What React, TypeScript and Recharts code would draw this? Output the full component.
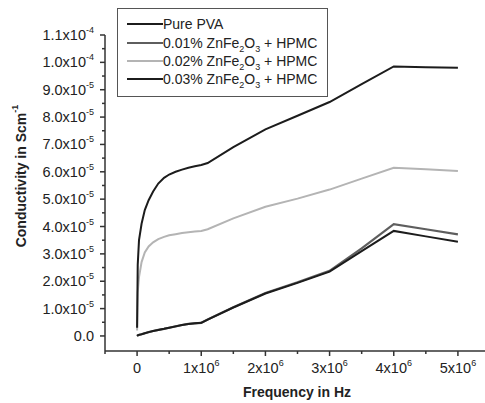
import { LineChart, Line, XAxis, YAxis } from 'recharts';

// frequency in Hz
const freqs = [
  0, 1e4, 3e4, 7e4, 1.2e5, 1.8e5, 2.5e5, 3.3e5, 4.2e5, 5e5, 6e5, 7e5, 8e5, 9e5,
  1e6, 1.1e6, 1.5e6, 2e6, 2.5e6, 3e6, 3.5e6, 4e6, 4.5e6, 5e6,
];

// conductivity in S/cm
const pvaValues = [
  0, 0.02e-5, 0.04e-5, 0.06e-5, 0.1e-5, 0.14e-5, 0.18e-5, 0.22e-5, 0.26e-5, 0.3e-5, 0.35e-5, 0.4e-5, 0.44e-5, 0.46e-5,
  0.48e-5, 0.6e-5, 1.04e-5, 1.55e-5, 1.94e-5, 2.35e-5, 3.1e-5, 3.84e-5, 3.64e-5, 3.44e-5,
];
const zf01Values = [
  0, 0.02e-5, 0.04e-5, 0.06e-5, 0.1e-5, 0.14e-5, 0.18e-5, 0.22e-5, 0.26e-5, 0.3e-5, 0.35e-5, 0.4e-5, 0.44e-5, 0.46e-5,
  0.48e-5, 0.6e-5, 1.05e-5, 1.57e-5, 1.96e-5, 2.38e-5, 3.2e-5, 4.09e-5, 3.9e-5, 3.71e-5,
];
const zf02Values = [
  0.2e-5, 1.6e-5, 2.15e-5, 2.7e-5, 3.05e-5, 3.27e-5, 3.42e-5, 3.54e-5, 3.62e-5, 3.68e-5, 3.72e-5, 3.76e-5, 3.79e-5, 3.82e-5,
  3.84e-5, 3.9e-5, 4.3e-5, 4.72e-5, 5.02e-5, 5.35e-5, 5.75e-5, 6.15e-5, 6.09e-5, 6.03e-5,
];
const zf03Values = [
  0.3e-5, 2.6e-5, 3.5e-5, 4.1e-5, 4.6e-5, 4.96e-5, 5.28e-5, 5.57e-5, 5.78e-5, 5.9e-5, 6.0e-5, 6.08e-5, 6.15e-5, 6.2e-5,
  6.25e-5, 6.32e-5, 6.9e-5, 7.55e-5, 8.05e-5, 8.55e-5, 9.2e-5, 9.85e-5, 9.82e-5, 9.8e-5,
];

const xTicks = [-5e5, 0, 5e5, 1e6, 1.5e6, 2e6, 2.5e6, 3e6, 3.5e6, 4e6, 4.5e6, 5e6, 5.5e6];
const yTicks = [
  0, 0.5e-5, 1e-5, 1.5e-5, 2e-5, 2.5e-5, 3e-5, 3.5e-5, 4e-5, 4.5e-5, 5e-5, 5.5e-5,
  6e-5, 6.5e-5, 7e-5, 7.5e-5, 8e-5, 8.5e-5, 9e-5, 9.5e-5, 1e-4, 1.05e-4, 1.1e-4,
];

const legendItems = [
  { name: 'Pure PVA', conc: '', color: '#1c1c1c' },
  { name: '', conc: '0.01%', color: '#5e5e5e' },
  { name: '', conc: '0.02%', color: '#b4b4b4' },
  { name: '', conc: '0.03%', color: '#1c1c1c' },
];

const data = freqs.map((f, i) => ({
  f,
  pva: pvaValues[i],
  zf01: zf01Values[i],
  zf02: zf02Values[i],
  zf03: zf03Values[i],
}));

const FONT = '"Liberation Sans", Arial, sans-serif';
const TEXT = '#222';

function XTick({ x, y, payload }: any) {
  const v = payload.value;
  const major = v >= 0 && Math.abs(v / 1e6 - Math.round(v / 1e6)) < 1e-6;
  const n = Math.round(v / 1e6);
  return (
    <g>
      <line x1={x} x2={x} y1={y} y2={y + (major ? 5 : 3)} stroke="#333" strokeWidth={1.5} />
      {major && (
        <text x={x} y={y + 22} textAnchor="middle" fontFamily={FONT} fontSize={14.5} fill={TEXT}>
          {n === 0 ? (
            '0'
          ) : (
            <>
              {n}x10<tspan dy={-7} fontSize={9}>6</tspan>
            </>
          )}
        </text>
      )}
    </g>
  );
}

function YTick({ x, y, payload }: any) {
  const v = payload.value;
  const k = v / 1e-5;
  const major = Math.abs(k - Math.round(k)) < 1e-6;
  const r = Math.round(k);
  let label: any = '0.0';
  if (r >= 10) label = <>{(r / 10).toFixed(1)}x10<tspan dy={-7} fontSize={9}>-4</tspan></>;
  else if (r > 0) label = <>{r.toFixed(1)}x10<tspan dy={-7} fontSize={9}>-5</tspan></>;
  return (
    <g>
      <line x1={x} x2={x - (major ? 5 : 3)} y1={y} y2={y} stroke="#333" strokeWidth={1.5} />
      {major && (
        <text x={x - 11} y={y + 5} textAnchor="end" fontFamily={FONT} fontSize={14.5} fill={TEXT}>
          {label}
        </text>
      )}
    </g>
  );
}

function YTitle() {
  const cx = 21;
  const cy = 176;
  return (
    <text
      x={cx}
      y={cy}
      transform={`rotate(-90 ${cx} ${cy})`}
      textAnchor="middle"
      dominantBaseline="central"
      fontFamily={FONT}
      fontWeight="bold"
      fontSize={14}
      fill={TEXT}
    >
      Conductivity in Scm<tspan dy={-6} fontSize={9}>-1</tspan>
    </text>
  );
}

function XTitle() {
  return (
    <text x={297} y={397} textAnchor="middle" fontFamily={FONT} fontWeight="bold" fontSize={14} fill={TEXT}>
      Frequency in Hz
    </text>
  );
}

function Sub({ children }: any) {
  return <span style={{ fontSize: 9, position: 'relative', top: 4 }}>{children}</span>;
}

export default function App() {
  return (
    <div
      style={{
        position: 'absolute',
        left: 0,
        top: 0,
        width: 485,
        height: 403,
        overflow: 'hidden',
        background: '#fff',
      }}
    >
      <LineChart width={495} height={403} data={data} margin={{ top: 35, right: 5, bottom: 0, left: 0 }}>
        <XAxis
          dataKey="f"
          type="number"
          domain={[-5e5, 5.5e6]}
          ticks={xTicks}
          interval={0}
          allowDataOverflow
          height={52}
          tickLine={false}
          tickSize={0}
          tickMargin={0}
          tick={<XTick />}
          axisLine={{ stroke: '#333', strokeWidth: 1.5 }}
          label={<XTitle />}
        />
        <YAxis
          type="number"
          domain={[-0.55e-5, 1.1e-4]}
          ticks={yTicks}
          interval={0}
          allowDataOverflow
          width={105}
          tickLine={false}
          tickSize={0}
          tickMargin={0}
          tick={<YTick />}
          axisLine={{ stroke: '#333', strokeWidth: 1.5 }}
          label={<YTitle />}
        />
        <Line type="linear" dataKey="zf02" stroke="#b4b4b4" strokeWidth={2} dot={false} isAnimationActive={false} />
        <Line type="linear" dataKey="zf01" stroke="#5e5e5e" strokeWidth={2.2} dot={false} isAnimationActive={false} />
        <Line type="linear" dataKey="pva" stroke="#1c1c1c" strokeWidth={2} dot={false} isAnimationActive={false} />
        <Line type="linear" dataKey="zf03" stroke="#1c1c1c" strokeWidth={2} dot={false} isAnimationActive={false} />
      </LineChart>
      <div
        style={{
          position: 'absolute',
          left: 117,
          top: 8,
          width: 211,
          height: 89,
          boxSizing: 'border-box',
          border: '1.5px solid #555',
          background: '#fff',
          paddingTop: 6,
          fontFamily: FONT,
          fontSize: 14,
          color: TEXT,
        }}
      >
        {legendItems.map((it, i) => (
          <div key={i} style={{ display: 'flex', alignItems: 'center', height: 18.4, whiteSpace: 'nowrap' }}>
            <svg width={45} height={4} style={{ flex: 'none' }}>
              <line x1={9} x2={45} y1={2} y2={2} stroke={it.color} strokeWidth={2} />
            </svg>
            <span>
              {it.name ? (
                it.name
              ) : (
                <>
                  {it.conc} ZnFe<Sub>2</Sub>O<Sub>3</Sub> + HPMC
                </>
              )}
            </span>
          </div>
        ))}
      </div>
    </div>
  );
}
